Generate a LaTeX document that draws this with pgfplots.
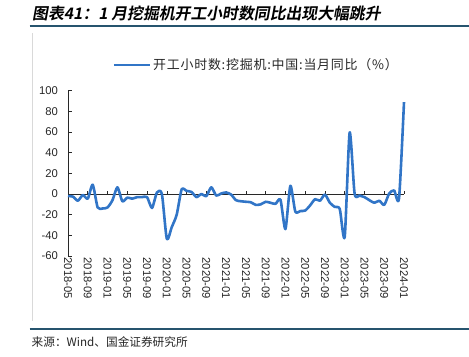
\documentclass[border=0pt]{standalone}
\usepackage{fontspec}
\setmainfont{Liberation Sans}
\newfontfamily\cjk{Noto Sans CJK SC}
\newfontfamily\cjkleg{Noto Sans CJK SC}[LetterSpace=6]
\newfontfamily\cjktitle{Noto Sans CJK SC Bold}[FakeSlant=0.18]
\usepackage{pgfplots}
\pgfplotsset{compat=1.18}
\definecolor{serblue}{RGB}{49,117,199}
\definecolor{rulecol}{RGB}{38,84,110}
\definecolor{axgray}{RGB}{40,40,40}
\begin{document}
\begin{tikzpicture}[x=1bp,y=1bp]
% title and rules
\node[anchor=west, inner sep=0pt] at (32,343) {\cjktitle\fontsize{15.9}{18}\selectfont 图表41：1 月挖掘机开工小时数同比出现大幅跳升};
\draw[rulecol, line width=1.4bp] (29.5,330) -- (469,330);
\draw[rulecol, line width=1.4bp] (29.5,27) -- (469,27);
\draw[black!15, line width=0.8bp] (32.3,323) -- (32.3,35);
\node[anchor=west, inner sep=0pt] at (31.5,13.5) {\cjk\fontsize{11.7}{13}\selectfont\color{black!85}来源：Wind、国金证券研究所};
\begin{axis}[
  at={(68bp,100bp)}, anchor=south west,
  scale only axis, width=336bp, height=165.3bp,
  xmin=0, xmax=68, ymin=-60, ymax=100,
  axis y line*=left, axis x line*=bottom,
  x axis line style={draw=none},
  y axis line style={axgray, line width=0.6bp},
  xtick={0,4,...,68},
  xticklabels={2018-05,2018-09,2019-01,2019-05,2019-09,2020-01,2020-05,2020-09,2021-01,2021-05,2021-09,2022-01,2022-05,2022-09,2023-01,2023-05,2023-09,2024-01},
  xtick style={draw=none},
  ytick={-60,-40,...,100},
  ytick align=inside,
  ytick style={axgray, line width=0.6bp},
  major tick length=3.5bp,
  tick label style={font=\fontsize{11.3}{12}\selectfont, text=black!85},
  xticklabel style={rotate=-90, anchor=west, xshift=-2bp},
  yticklabel style={xshift=-6.5bp},
  /pgf/number format/assume math mode=true,
  clip=false,
  legend style={draw=none, fill=none, at={(0.56,1.155)}, anchor=center,
    font=\cjkleg\fontsize{13}{15}\selectfont, text=black!85},
  legend image code/.code={\draw[#1] (0bp,0bp) -- (36bp,0bp);},
]
\draw[axgray, line width=0.6bp] (axis cs:0,0) -- (axis cs:68,0);
\pgfplotsinvokeforeach{4,8,...,68}{\draw[axgray, line width=0.6bp] (axis cs:#1,0) -- (axis cs:#1,3.4);}
\addplot[serblue, line width=2.6bp, smooth, tension=0.4, line join=round] coordinates {
(0,-2) (1,-2.5) (2,-6.5) (3,-1) (4,-4.5) (5,9) (6,-13) (7,-14) (8,-13) (9,-6)
(10,6.5) (11,-7) (12,-3.5) (13,-4.5) (14,-3) (15,-3) (16,-3) (17,-13.5) (18,1.5) (19,0)
(20,-43.5) (21,-32) (22,-20) (23,4.5) (24,3) (25,2) (26,-3) (27,0) (28,-2) (29,6.5)
(30,-1.5) (31,0.5) (32,1.5) (33,-0.5) (34,-6) (35,-7) (36,-7.5) (37,-8) (38,-10.5) (39,-10)
(40,-7.5) (41,-8.5) (42,-9.5) (43,-5.5) (44,-34) (45,8) (46,-17) (47,-16.5) (48,-16) (49,-11)
(50,-5) (51,-6.5) (52,-0.5) (53,-8.5) (54,-12.5) (55,-14.5) (56,-41.5) (57,59.5) (58,0.5) (59,-1.5)
(60,-3) (61,-6) (62,-8.5) (63,-6.5) (64,-10.5) (65,0.5) (66,3.5) (67,-4) (68,89)
};
\addlegendentry{开工小时数:挖掘机:中国:当月同比（\%）}
\end{axis}
\pgfresetboundingbox
\path[use as bounding box] (0,0) rectangle (469,356);
\end{tikzpicture}
\end{document}
